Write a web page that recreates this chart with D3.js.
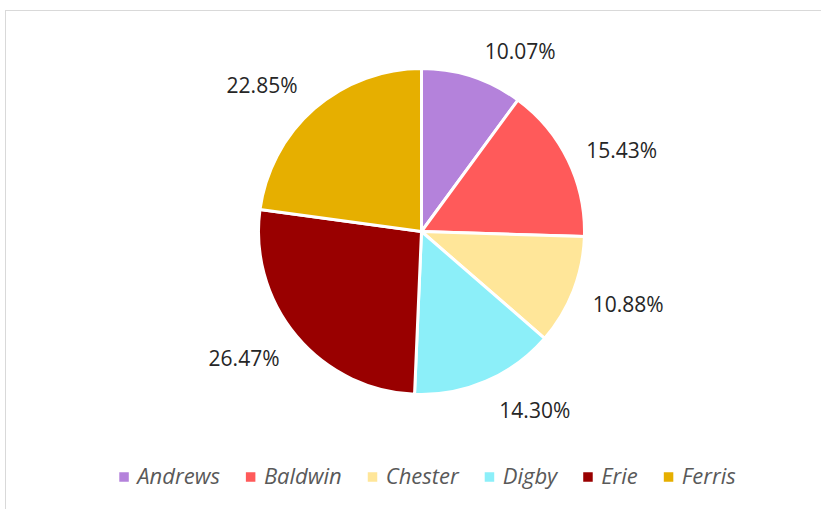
<!DOCTYPE html>
<html>
<head>
<meta charset="utf-8">
<script src="https://cdn.jsdelivr.net/npm/d3@7"></script>
<style>
  html, body { margin: 0; padding: 0; background: #fff; }
  svg { display: block; }
</style>
</head>
<body>
<svg id="chart" width="821" height="509"></svg>
<script>
// Market share by company
const categories = ["Andrews", "Baldwin", "Chester", "Digby", "Erie", "Ferris"];
const shares = [10.07, 15.43, 10.88, 14.30, 26.47, 22.85];
const colors = ["#B482DB", "#FF5A5A", "#FFE699", "#8CEFF9", "#990000", "#E6AF00"];

const W = 821, H = 509;
const cx = 421.5, cy = 231.5, radius = 163;

// Fine placement of the outside labels: angle shift (degrees) and distance from centre
const labelPlace = {
  Andrews: { dAng: 10.5, r: 206 },
  Baldwin: { dAng: 3.9, r: 216 },
  Chester: { dAng: -2.1, r: 219 },
  Digby:   { dAng: -9.1, r: 211.5 },
  Erie:    { dAng: 4.4, r: 218 },
  Ferris:  { dAng: -6.3, r: 216.5 }
};

const svg = d3.select("#chart");

// chart area frame
svg.append("rect")
  .attr("x", 5.5).attr("y", 10.5)
  .attr("width", 900).attr("height", 600)
  .attr("fill", "#fff")
  .attr("stroke", "#D9D9D9")
  .attr("stroke-width", 1);

const data = categories.map((c, i) => ({ name: c, value: shares[i], color: colors[i] }));

const pie = d3.pie().sort(null).value(d => d.value).startAngle(0).endAngle(2 * Math.PI);
const arc = d3.arc().innerRadius(0).outerRadius(radius);
const arcs = pie(data);

const g = svg.append("g").attr("transform", `translate(${cx},${cy})`);

g.selectAll("path.slice")
  .data(arcs)
  .join("path")
  .attr("class", "slice")
  .attr("d", arc)
  .attr("fill", d => d.data.color)
  .attr("stroke", "#fff")
  .attr("stroke-width", 3)
  .attr("stroke-linejoin", "round");

// percentage labels outside the slices
g.selectAll("text.lbl")
  .data(arcs)
  .join("text")
  .attr("class", "lbl")
  .each(function (d) {
    const p = labelPlace[d.data.name];
    const a = (d.startAngle + d.endAngle) / 2 + p.dAng * Math.PI / 180;
    d3.select(this)
      .attr("x", Math.sin(a) * p.r)
      .attr("y", -Math.cos(a) * p.r);
  })
  .attr("text-anchor", "middle")
  .attr("dominant-baseline", "central")
  .attr("font-family", "'Open Sans', sans-serif")
  .attr("font-size", 21)
  .attr("fill", "#262626")
  .text(d => d.data.value.toFixed(2) + "%");

// legend, centred under the pie
const legend = svg.append("g");
const items = legend.selectAll("g.item")
  .data(data)
  .join("g")
  .attr("class", "item");

items.append("rect")
  .attr("width", 9.5).attr("height", 9.5)
  .attr("y", -4.75)
  .attr("fill", d => d.color);

items.append("text")
  .attr("x", 18)
  .attr("y", 7)
  .attr("font-family", "'Open Sans', sans-serif")
  .attr("font-style", "italic")
  .attr("font-size", 22)
  .attr("fill", "#595959")
  .text(d => d.name);

let xPos = 0;
items.each(function () {
  const t = d3.select(this).select("text").node().getComputedTextLength();
  d3.select(this).attr("transform", `translate(${xPos},0)`);
  xPos += 18 + t + 26;
});
const totalW = xPos - 26;
legend.attr("transform", `translate(${427.5 - totalW / 2},477)`);
</script>
</body>
</html>
